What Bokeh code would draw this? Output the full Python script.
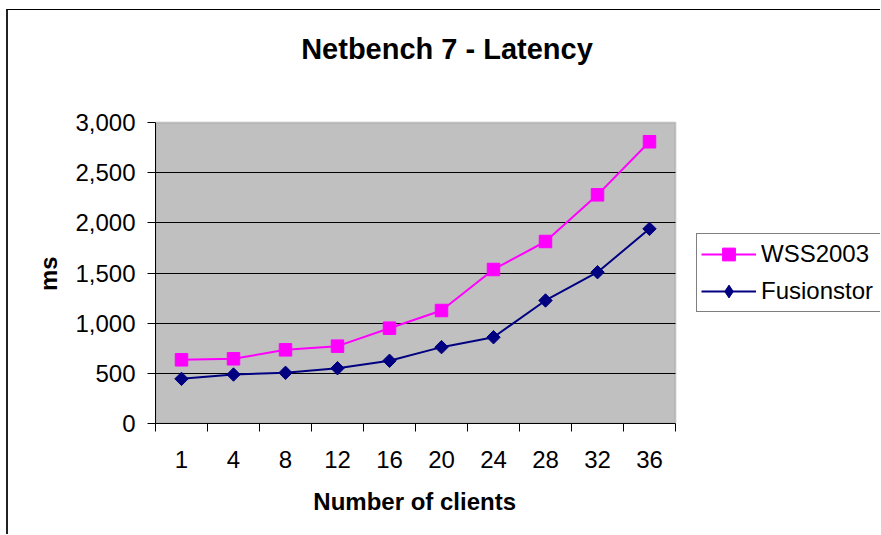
from bokeh.plotting import figure
from bokeh.models import (Range1d, FixedTicker, NumeralTickFormatter, Legend, LegendItem,
                          Label, BoxAnnotation)
from bokeh.embed import file_html
from bokeh.resources import INLINE

clients = ["1", "4", "8", "12", "16", "20", "24", "28", "32", "36"]
wss2003 = [635, 645, 734, 771, 950, 1126, 1535, 1814, 2279, 2808]
fusionstor = [445, 488, 505, 551, 625, 761, 860, 1226, 1508, 1940]
y_ticks = [0, 500, 1000, 1500, 2000, 2500, 3000]
title_text = "Netbench 7 - Latency"
x_title = "Number of clients"
y_title = "ms"

FONT = "Liberation Sans"
NBSP = "\u00a0"

n = len(clients)
xs = [i + 0.5 for i in range(n)]
y_max = y_ticks[-1]

# layout (pixels): plot area 520 x 301, the frame is extended to hold title and legend
AREA_W, AREA_H = 520, 301
FRAME_W, FRAME_H = 725, 413

p = figure(frame_width=FRAME_W, frame_height=FRAME_H, output_backend="svg", toolbar_location=None,
           title_location=None,
           x_range=Range1d(0, n * FRAME_W / AREA_W), y_range=Range1d(0, y_max * FRAME_H / AREA_H),
           min_border_left=147, min_border_top=0, min_border_right=0, min_border_bottom=111)
p.styles = {"margin-left": "6px", "margin-top": "9px",
            "border-left": "2px solid #222", "border-top": "1px solid #000"}
p.background_fill_color = "white"
p.border_fill_color = "white"
p.outline_line_color = None

xax = p.below[0]
yax = p.left[0]

# plot area
p.add_layout(BoxAnnotation(left=0, right=n, bottom=y_ticks[0], top=y_max,
                           fill_color="#C0C0C0", fill_alpha=1,
                           line_color="#808080", line_width=2, level="image"))

# grid
p.xgrid.grid_line_color = None
grid_ticks = y_ticks[1:-1]
if "cross_bounds" in p.ygrid[0].properties():
    p.ygrid.ticker = FixedTicker(ticks=grid_ticks)
    p.ygrid.grid_line_color = "black"
    p.ygrid.grid_line_width = 1
    p.ygrid.cross_bounds = (0, n)
else:
    p.ygrid.grid_line_color = None
    p.segment(x0=[0] * len(grid_ticks), x1=[n] * len(grid_ticks), y0=grid_ticks, y1=grid_ticks,
              line_color="black", line_width=1, level="underlay")

# x axis: labels at category centres, ticks at boundaries
xax.bounds = (0, n)
xax.ticker = FixedTicker(ticks=xs, minor_ticks=list(range(n + 1)))
xax.major_label_overrides = {x: c for x, c in zip(xs, clients)}
xax.major_tick_in = 0
xax.major_tick_out = 0
xax.minor_tick_in = 0
xax.minor_tick_out = 8
xax.minor_tick_line_color = "black"
xax.axis_line_color = "black"
xax.major_label_standoff = 19
xax.major_label_text_font = FONT
xax.major_label_text_font_size = "24px"
xax.major_label_text_color = "black"
# axis labels are centred on the (wider) frame: pad so the words sit under the plot area
xax.axis_label = x_title + NBSP * 31
xax.axis_label_text_font = FONT
xax.axis_label_text_font_size = "24px"
xax.axis_label_text_font_style = "bold"
xax.axis_label_text_color = "black"
xax.axis_label_standoff = 17

yax.bounds = (y_ticks[0], y_max)
yax.ticker = FixedTicker(ticks=y_ticks, minor_ticks=[])
yax.formatter = NumeralTickFormatter(format="0,0")
yax.major_tick_in = 0
yax.major_tick_out = 8
yax.major_tick_line_color = "black"
yax.axis_line_color = "black"
yax.major_label_standoff = 12
yax.major_label_text_font = FONT
yax.major_label_text_font_size = "24px"
yax.major_label_text_color = "black"
yax.axis_label = y_title + NBSP * 17
yax.axis_label_text_font = FONT
yax.axis_label_text_font_size = "24px"
yax.axis_label_text_font_style = "bold"
yax.axis_label_text_color = "black"
yax.axis_label_standoff = 10

# series
l1 = p.line(xs, wss2003, line_color="#FF00FF", line_width=2)
s1 = p.scatter(xs, wss2003, marker="square", size=12.5, fill_color="#FF00FF", line_color="#FF00FF")
l2 = p.line(xs, fusionstor, line_color="#000080", line_width=2)
s2 = p.scatter(xs, fusionstor, marker="square", angle=0.785398, size=9.5,
               fill_color="#000080", line_color="#000080")
# diamond used for the legend key (legend keys are drawn unrotated)
s2_key = p.scatter(xs, fusionstor, marker="diamond", size=14,
                   fill_color="#000080", line_color="#000080", visible=False)

legend = Legend(items=[LegendItem(label="WSS2003", renderers=[l1, s1]),
                       LegendItem(label="Fusionstor", renderers=[l2, s2_key])],
                location=(541, 111), orientation="vertical",
                border_line_color="black", border_line_width=1,
                background_fill_color="white", background_fill_alpha=1,
                padding=4, spacing=5, glyph_width=55, glyph_height=32,
                label_height=32, label_standoff=5, label_width=130, margin=0,
                label_text_font=FONT, label_text_font_size="24px", label_text_color="black")
p.add_layout(legend)

p.add_layout(Label(x=n * 291.5 / AREA_W, y=y_max * 375 / AREA_H, text=title_text,
                   text_align="center", text_baseline="alphabetic", text_font=FONT,
                   text_font_style="bold", text_font_size="29px", text_color="black"))

open("out.html", "w").write(file_html(p, INLINE))
